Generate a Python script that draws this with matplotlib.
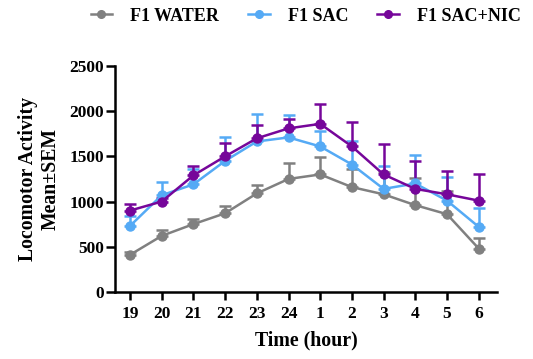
import matplotlib
matplotlib.use("Agg")
import matplotlib.pyplot as plt
from matplotlib.lines import Line2D
import numpy as np

hours = ["19", "20", "21", "22", "23", "24", "1", "2", "3", "4", "5", "6"]
water = [410, 620, 750, 870, 1090, 1250, 1300, 1160, 1080, 960, 860, 480]
water_err = [30, 70, 60, 80, 95, 180, 190, 200, 250, 300, 260, 120]
sac = [730, 1070, 1190, 1450, 1665, 1710, 1610, 1410, 1140, 1200, 1010, 720]
sac_err = [105, 150, 170, 265, 300, 245, 170, 255, 255, 310, 265, 210]
nic = [900, 1000, 1290, 1500, 1700, 1810, 1860, 1610, 1300, 1140, 1080, 1010]
nic_err = [70, 40, 100, 145, 150, 100, 220, 270, 340, 310, 260, 290]

series = [("F1 WATER", water, water_err, "#808080"),
          ("F1 SAC", sac, sac_err, "#55aaf5"),
          ("F1 SAC+NIC", nic, nic_err, "#76069a")]

plt.rcParams['font.family'] = ['Liberation Serif', 'DejaVu Serif']
plt.rcParams['font.weight'] = 'bold'

fig = plt.figure(figsize=(5.33, 3.59), dpi=100)
ax = fig.add_axes([0.216, 0.187, 0.716, 0.629])

x = np.arange(len(hours))
handles = []
for name, vals, err, col in series:
    ax.errorbar(x, vals, yerr=[np.zeros(len(err)), err], color=col, lw=1.8,
                marker='o', markersize=6.5, capsize=4, capthick=1.8,
                elinewidth=1.8)
    handles.append(Line2D([], [], color=col, lw=1.8, marker='o', markersize=5.5, label=name))

ax.set_xlim(-0.47, 11.57)
ax.set_ylim(0, 2500)
ax.set_yticks([0, 500, 1000, 1500, 2000, 2500])
ax.set_xticks(x)
ax.set_xticklabels(hours)
for s in ['top', 'right']:
    ax.spines[s].set_visible(False)
for s in ['left', 'bottom']:
    ax.spines[s].set_linewidth(1.8)
ax.tick_params(axis='y', direction='out', length=6.5, width=1.8, labelsize=12.5, pad=1.5)
ax.tick_params(axis='x', direction='out', length=6, width=1.8, labelsize=12.5, pad=4)
for lab in ax.get_xticklabels() + ax.get_yticklabels():
    lab.set_fontweight('bold')

ax.set_xlabel("Time (hour)", fontsize=14.3, fontweight='bold', labelpad=6)
ax.set_ylabel("Locomotor Activity\nMean±SEM", fontsize=14.2, fontweight='bold', labelpad=6)

fig.legend(handles=handles, loc='center left', bbox_to_anchor=(0.17, 0.955), ncol=3,
           frameon=False, handlelength=1.2, columnspacing=1.6, handletextpad=1.0,
           borderaxespad=0, borderpad=0,
           prop={'weight': 'bold', 'size': 13})

fig.savefig("out.png", dpi=100)
